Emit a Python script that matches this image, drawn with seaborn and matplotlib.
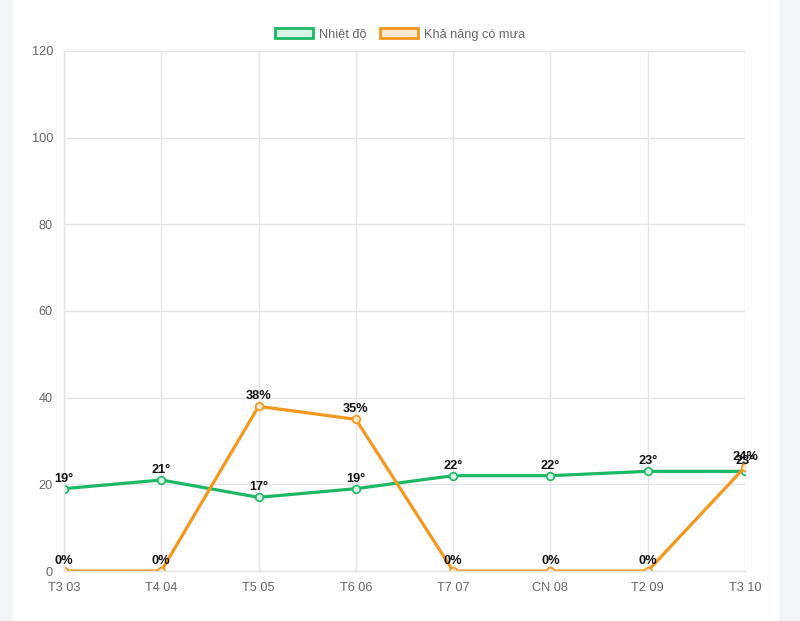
import matplotlib
matplotlib.use("Agg")
import matplotlib.pyplot as plt
import seaborn as sns
import pandas as pd
from matplotlib.patches import Patch, FancyBboxPatch

days = ["T3 03", "T4 04", "T5 05", "T6 06", "T7 07", "CN 08", "T2 09", "T3 10"]
temperature = [19, 21, 17, 19, 22, 22, 23, 23]
rain_chance = [0, 0, 38, 35, 0, 0, 0, 24]
series_names = ["Nhiệt độ", "Khả năng có mưa"]
y_ticks = [0, 20, 40, 60, 80, 100, 120]

green = "#1db863"
orange = "#f5961d"
fills = {series_names[0]: "#d6f3e3", series_names[1]: "#fde9d2"}

sns.set_theme(style="white")
plt.rcParams['font.family'] = ['Liberation Sans', 'DejaVu Sans']

df = pd.DataFrame({
    "day": days * 2,
    "x": list(range(len(days))) * 2,
    "value": temperature + rain_chance,
    "series": [series_names[0]] * len(days) + [series_names[1]] * len(days),
})

fig = plt.figure(figsize=(8, 6.21), dpi=100)
fig.patch.set_facecolor("#f3f6f8")
card = FancyBboxPatch((0.016, -0.05), 0.958, 1.1, boxstyle="round,pad=0,rounding_size=0.015",
                      transform=fig.transFigure, facecolor="white", edgecolor="none", zorder=-10)
fig.patches.append(card)

ax = fig.add_axes([0.08, 0.0805, 0.85125, 0.8374])
ax.set_facecolor("none")
ax.set_zorder(5)

palette = {series_names[0]: green, series_names[1]: orange}
sns.lineplot(data=df, x="x", y="value", hue="series", palette=palette,
             hue_order=series_names, ax=ax, linewidth=2.3, legend=False,
             marker="o", markersize=5.5, markeredgewidth=1.2, sort=False)
for line, name in zip(ax.get_lines(), series_names):
    line.set_markerfacecolor(fills[name])
    line.set_markeredgecolor(line.get_color())
    line.set_alpha(1)

ax.set_xlim(0, len(days) - 1)
ax.set_ylim(0, 120)
ax.set_xticks(range(len(days)))
ax.set_xticklabels(days)
ax.set_yticks(y_ticks)
ax.set_xlabel("")
ax.set_ylabel("")
ax.grid(True, color="#e4e4e4", linewidth=1)
ax.set_axisbelow(True)
ax.tick_params(axis="both", colors="#666666", labelsize=9.2, length=6, width=1, pad=2)
ax.tick_params(axis="both", color="#e4e4e4")
for s in ["top", "right"]:
    ax.spines[s].set_visible(False)
for s in ["left", "bottom"]:
    ax.spines[s].set_color("#e4e4e4")
    ax.spines[s].set_linewidth(1)

for i, (t, r) in enumerate(zip(temperature, rain_chance)):
    ax.annotate(f"{t}°", (i, t), xytext=(0, 3), textcoords="offset points",
                ha="center", va="bottom", fontsize=9.2, fontweight="bold", color="#111111",
                annotation_clip=False)
    ax.annotate(f"{r}%", (i, r), xytext=(0, 3), textcoords="offset points",
                ha="center", va="bottom", fontsize=9.2, fontweight="bold", color="#111111",
                annotation_clip=False)

handles = [Patch(facecolor=fills[series_names[0]], edgecolor=green, linewidth=2),
           Patch(facecolor=fills[series_names[1]], edgecolor=orange, linewidth=2)]
leg = fig.legend(handles, series_names, loc="center", bbox_to_anchor=(0.5, 0.945),
                 ncol=2, frameon=False, fontsize=9.2, handlelength=3.0, handleheight=0.9,
                 columnspacing=1.0, handletextpad=0.5)
for t in leg.get_texts():
    t.set_color("#666666")

fig.savefig("out.png", dpi=100, facecolor=fig.get_facecolor())
